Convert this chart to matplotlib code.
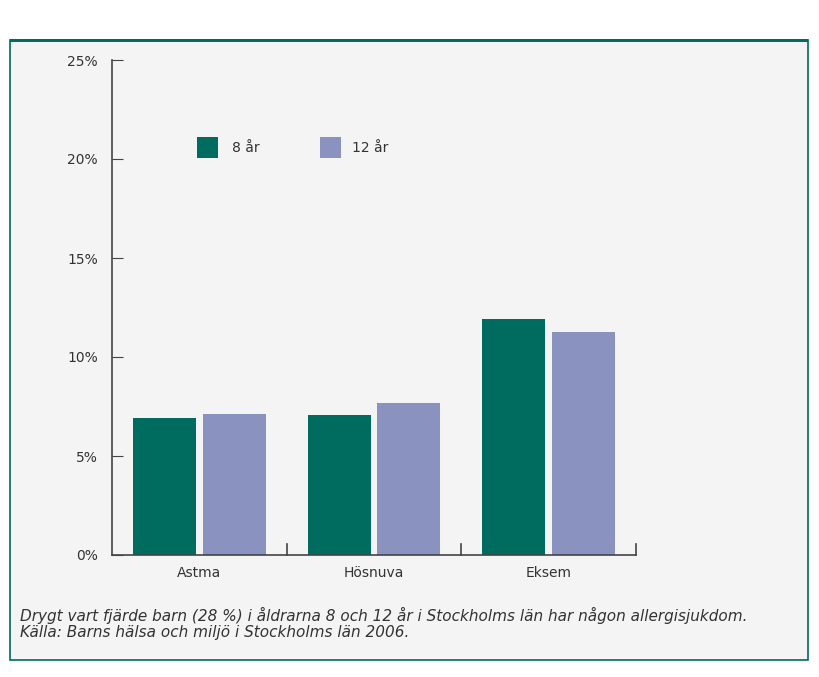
import matplotlib.pyplot as plt
from matplotlib.patches import Rectangle
import numpy as np

categories = ['Astma', 'Hösnuva', 'Eksem']
age8 = [6.9, 7.05, 11.9]
age12 = [7.1, 7.7, 11.25]
yticks = [0, 5, 10, 15, 20, 25]

teal = '#006b5f'
lav = '#8a93c0'
txt = '#333333'

W, H = 820, 677
fig = plt.figure(figsize=(W / 100, H / 100), dpi=100)
fig.patch.set_facecolor('white')

# panel background with border, behind the axes
fig.patches.append(Rectangle((10 / W, 17 / H), 798 / W, 620 / H, transform=fig.transFigure,
                             facecolor='#f4f4f4', edgecolor=teal, linewidth=1.2, zorder=-10))
fig.patches.append(Rectangle((10 / W, 635 / H), 798 / W, 3 / H, transform=fig.transFigure,
                             facecolor=teal, edgecolor='none', zorder=-10))

ax = fig.add_axes([112 / W, 122 / H, 524 / W, 495 / H])
ax.set_facecolor('none')
ax.set_zorder(5)
x = np.arange(len(categories))
w = 0.36
ax.bar(x - w / 2 - 0.02, age8, w, color=teal)
ax.bar(x + w / 2 + 0.02, age12, w, color=lav)
ax.set_xlim(-0.5, 2.5)
ax.set_ylim(0, 25)

for s in ['top', 'right']:
    ax.spines[s].set_visible(False)
for s in ['left', 'bottom']:
    ax.spines[s].set_color('#444444')
    ax.spines[s].set_linewidth(1.2)

ax.set_yticks(yticks)
ax.set_yticklabels([f'{v}%' for v in yticks], color=txt, fontsize=10)
ax.tick_params(axis='y', direction='in', length=8, color='#444444', pad=10)
ax.set_xticks(x)
ax.set_xticklabels(categories, color=txt, fontsize=10)
ax.tick_params(axis='x', length=0, pad=8)
for b in [0.5, 1.5, 2.5]:
    ax.plot([b, b], [0, 0.55], color='#444444', lw=1.2, clip_on=False)

# legend
fig.patches.append(Rectangle((197 / W, (677 - 158) / H), 21 / W, 21 / H, transform=fig.transFigure,
                             facecolor=teal, edgecolor='none'))
fig.text(232 / W, (677 - 148) / H, '8 år', fontsize=10, color=txt, va='center')
fig.patches.append(Rectangle((320 / W, (677 - 158) / H), 21 / W, 21 / H, transform=fig.transFigure,
                             facecolor=lav, edgecolor='none'))
fig.text(352 / W, (677 - 148) / H, '12 år', fontsize=10, color=txt, va='center')

fig.text(20 / W, (677 - 615) / H,
         'Drygt vart fjärde barn (28 %) i åldrarna 8 och 12 år i Stockholms län har någon allergisjukdom.',
         fontsize=11, style='italic', color=txt, va='center')
fig.text(20 / W, (677 - 633) / H, 'Källa: Barns hälsa och miljö i Stockholms län 2006.',
         fontsize=11, style='italic', color=txt, va='center')

fig.savefig('out.png', dpi=100)
